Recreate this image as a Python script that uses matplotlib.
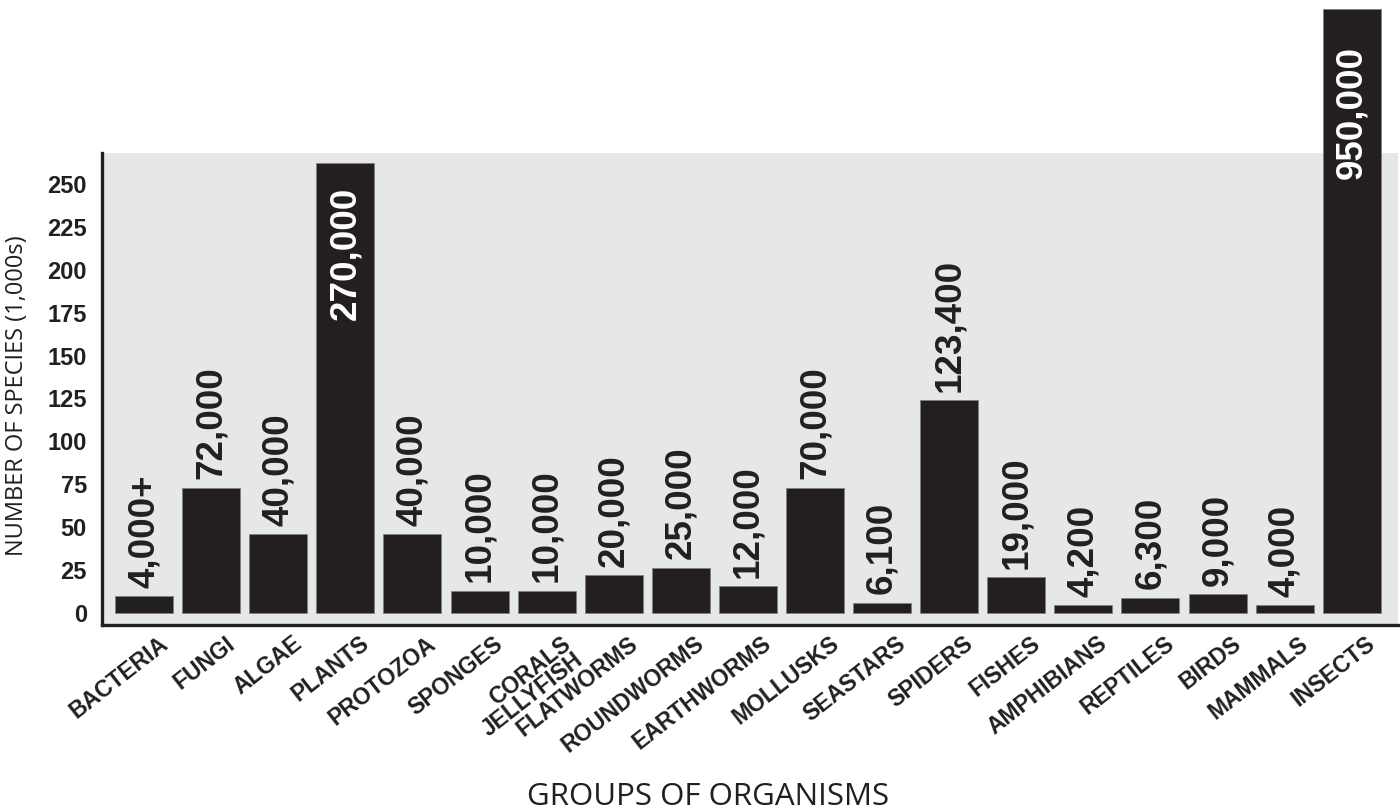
import matplotlib
matplotlib.use('Agg')
import matplotlib.pyplot as plt
import matplotlib.transforms as mtransforms
import numpy as np

# groups and bar heights (thousands of species, as drawn)
groups = ['BACTERIA', 'FUNGI', 'ALGAE', 'PLANTS', 'PROTOZOA', 'SPONGES',
          'CORALS\nJELLYFISH', 'FLATWORMS', 'ROUNDWORMS', 'EARTHWORMS',
          'MOLLUSKS', 'SEASTARS', 'SPIDERS', 'FISHES', 'AMPHIBIANS',
          'REPTILES', 'BIRDS', 'MAMMALS', 'INSECTS']
heights = [10, 73, 46, 262, 46, 13, 13, 22, 26.5, 15.5, 73, 6, 124, 21,
           4.5, 9, 11, 4.5, 352]
value_labels = ['4,000+', '72,000', '40,000', '270,000', '40,000', '10,000',
                '10,000', '20,000', '25,000', '12,000', '70,000', '6,100',
                '123,400', '19,000', '4,200', '6,300', '9,000', '4,000',
                '950,000']
# labels written inside the bar (offset from bar top, points)
inside = {'PLANTS': -17, 'INSECTS': -27}
yticks = [0, 25, 50, 75, 100, 125, 150, 175, 200, 225, 250]

dark = '#231f20'
bg = '#e6e7e8'

fig = plt.figure(figsize=(14, 8.11), dpi=100)
ax = fig.add_axes([0.0729, 0.2293, 0.9257, 0.582])
ax.set_facecolor(bg)

x = np.arange(len(groups))
bars = ax.bar(x, heights, width=0.864, color=dark, edgecolor='#808080',
              linewidth=0.6, clip_on=False, zorder=3)

for i, (b, lab) in enumerate(zip(bars, value_labels)):
    top = b.get_height()
    if groups[i] in inside:
        ax.annotate(lab, (x[i], top), xytext=(0, inside[groups[i]]),
                    textcoords='offset points', ha='center', va='top',
                    rotation=90, color='white', fontsize=26.5,
                    fontweight='bold', family='Liberation Sans',
                    annotation_clip=False, zorder=4)
    else:
        ax.annotate(lab, (x[i], top), xytext=(0, 6), textcoords='offset points',
                    ha='center', va='bottom', rotation=90, color=dark,
                    fontsize=26.5, fontweight='bold', family='Liberation Sans',
                    zorder=4)

ax.set_xlim(-0.626, 18.69)
ax.set_ylim(-7, 268)
ax.set_yticks(yticks)
ax.set_yticklabels([str(v) for v in yticks], fontsize=17, fontweight='bold',
                   family='Liberation Sans', color=dark)
ax.tick_params(axis='y', length=0, pad=11)
ax.tick_params(axis='x', length=0, pad=5)
ax.set_xticks(x)
ax.set_xticklabels(groups, rotation=38, ha='right', rotation_mode='anchor',
                   fontsize=16.5, fontweight='bold', family='Liberation Sans',
                   color=dark, linespacing=0.85)
shift = mtransforms.ScaledTranslation(14 / 100, 0, fig.dpi_scale_trans)
for t in ax.get_xticklabels():
    t.set_transform(t.get_transform() + shift)

for s in ['top', 'right']:
    ax.spines[s].set_visible(False)
for s in ['left', 'bottom']:
    ax.spines[s].set_linewidth(2.4)
    ax.spines[s].set_color(dark)

ax.set_ylabel('NUMBER OF SPECIES (1,000s)', fontsize=17, family='Open Sans',
              color=dark)
ax.yaxis.set_label_coords(-0.056, 0.485)
fig.text(0.506, 0.0173, 'GROUPS OF ORGANISMS', ha='center', va='center',
         fontsize=22.5, family='Open Sans', color=dark)

fig.savefig('out.png', dpi=100)
